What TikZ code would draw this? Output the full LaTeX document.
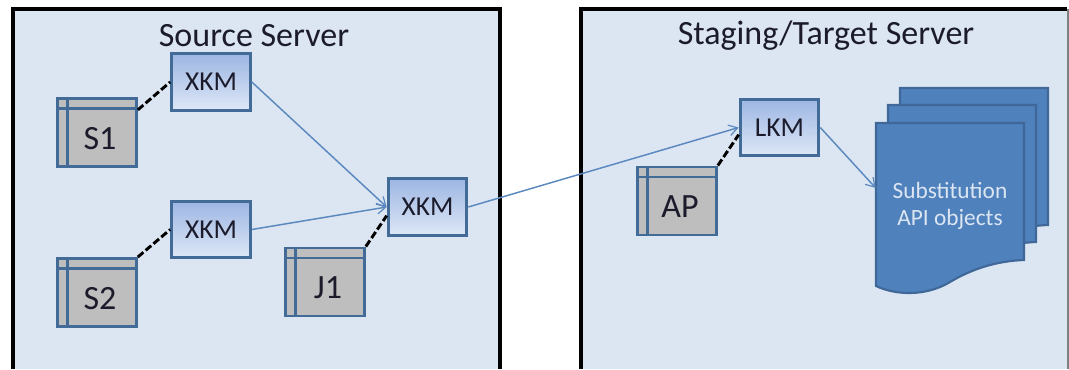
\documentclass[tikz,border=0pt]{standalone}
\usepackage{fontspec}
\setmainfont{Carlito}
\usetikzlibrary{arrows.meta}
\definecolor{panelfill}{HTML}{DCE6F2}
\definecolor{boxline}{HTML}{436B98}
\definecolor{boxtop}{HTML}{9DB6E3}
\definecolor{boxbottom}{HTML}{DDE7F6}
\definecolor{cellgray}{HTML}{BEBEBE}
\definecolor{arrowblue}{HTML}{5B88BF}
\definecolor{docfill}{HTML}{4F81BD}
\definecolor{docline}{HTML}{3F6797}
\definecolor{inktext}{HTML}{1B1B2B}
\newcommand{\tablecell}[1]{\raisebox{-12.5pt}[0pt][0pt]{\hspace{4.5pt}#1}}
\tikzset{
  >={Straight Barb[length=6.5pt,width=8pt,line width=0.9pt]},
  panel/.style={line width=2.3pt,black},
  kmbox/.style={draw=boxline,line width=2.2pt,top color=boxtop,bottom color=boxbottom,
    minimum width=59pt,minimum height=42.5pt,inner sep=0pt,text=inktext,font=\fontsize{20.5}{20.5}\selectfont},
  tablebox/.style={draw=boxline,line width=2.2pt,fill=cellgray,
    minimum width=59pt,minimum height=51pt,inner sep=0pt,text=inktext,font=\fontsize{25.5}{25.5}\selectfont,
    path picture={
      \draw[boxline,line width=2.2pt] ([xshift=7.5pt]path picture bounding box.north west) -- ([xshift=7.5pt]path picture bounding box.south west);
      \draw[boxline,line width=2.2pt] ([yshift=-7.5pt]path picture bounding box.north west) -- ([yshift=-7.5pt]path picture bounding box.north east);
    }},
  flow/.style={->,arrowblue,line width=1.1pt},
  link/.style={black,line width=2.2pt,dash pattern=on 5.5pt off 2.2pt},
  title/.style={text=inktext,font=\fontsize{25.5}{25.5}\selectfont}
}
\begin{document}
\begin{tikzpicture}
        [x=0.75pt,y=-0.75pt]
        \useasboundingbox (0,0) rectangle (1069,369);

        \fill[panelfill] (13,9) rectangle (500,369);
        \fill[panelfill] (581,9) rectangle (1067,369);
        \draw[panel] (13,369) |- (500,9) -- (500,369);
        \draw[panel] (581,369) |- (1067,9);
        \draw[gray,line width=1.5pt] (1068,9) -- (1068,369);

        \node[title] (source) at (254,36) {Source Server};
        \node[title] (staging) at (826,36) {Staging/Target Server};

        \node[kmbox] (xkmA) at (211,82) {XKM};
        \node[kmbox] (xkmB) at (211,229.5) {XKM};
        \node[kmbox] (xkmC) at (427.5,207) {XKM};
        \node[kmbox] (lkm) at (779.5,127.5) {LKM};

        \node[tablebox] (S1) at (97,132.5) {\tablecell{S1}};
        \node[tablebox] (S2) at (97,292.5) {\tablecell{S2}};
        \node[tablebox] (J1) at (325,282) {\tablecell{J1}};
        \node[tablebox] (AP) at (677,201) {\tablecell{AP}};

        \foreach \dx/\dy in {24/-35,12/-18,0/0}
        {\draw[shift={(\dx,\dy)},draw=docline,fill=docfill,line width=1.6pt]
          (876,123) -- (1024,123) -- (1024,260)
          .. controls (995,261) and (970,270) .. (950,282)
          .. controls (925,297) and (895,295) .. (876,286) -- cycle;}
        \node[minimum width=111pt,minimum height=1pt,inner sep=0pt,align=center,text=panelfill,
          font=\fontsize{17.5}{20.5}\selectfont] (subst) at (950,206) {Substitution\\API objects};

        \draw[link] (S1.29) -- (xkmA.west);
        \draw[link] (S2.north east) -- (xkmB.west);
        \draw[link] (J1.north east) -- (xkmC.192);
        \draw[link] (AP.north east) -- (lkm.190);

        \draw[flow] (xkmA.east) -- (xkmC.west);
        \draw[flow] (xkmB.east) -- (xkmC.west);
        \draw[flow] (xkmC.east) -- (lkm.west);
        \draw[flow] (lkm.east) -- ([yshift=13.5pt]subst.west);
      \end{tikzpicture}
\end{document}
